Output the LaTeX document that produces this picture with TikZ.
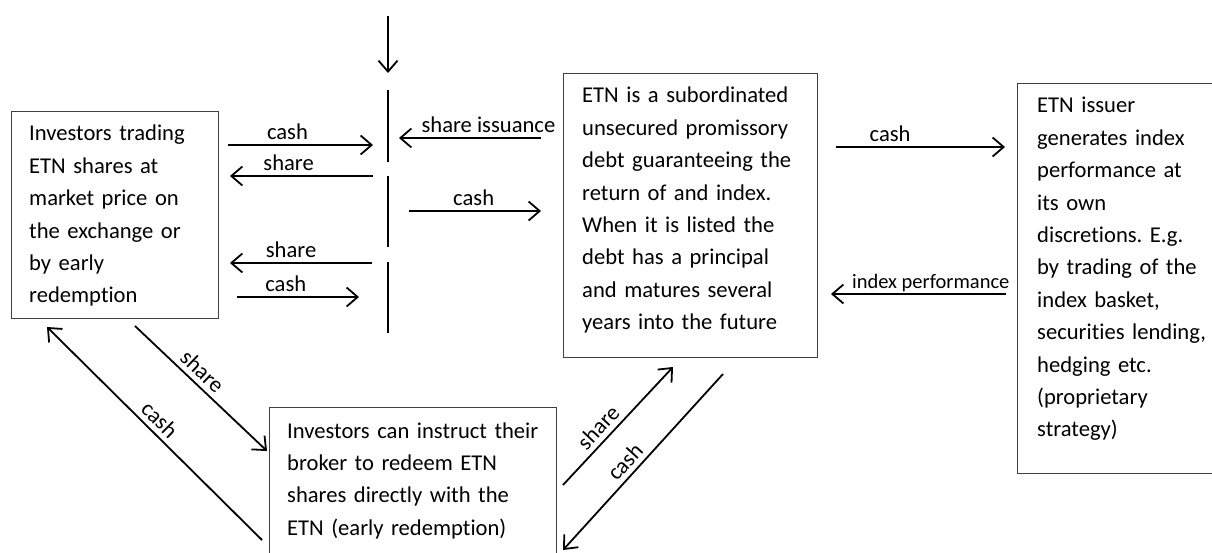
\documentclass[tikz,border=0pt]{standalone}
\usepackage{fontspec}
\setmainfont{Carlito}[Ligatures=NoCommon]
\usetikzlibrary{arrows.meta}
\frenchspacing
\tikzset{
  box/.style={draw=black!75,line width=1.3pt,anchor=north west,inner sep=0pt},
  txt/.style={anchor=base west,align=left,inner sep=0pt,
    font=\fontsize{22.6}{32.4}\selectfont},
  flow/.style={line width=1.8pt,-{Straight Barb[length=11pt,width=19pt]}},
  seg/.style={line width=1.8pt},
  lbl/.style={above=5pt,inner sep=0pt,text depth=0pt,
    font=\fontsize{22.6}{27}\selectfont},
}

\begin{document}
\begin{tikzpicture}[x=1pt,y=-1pt]
  \useasboundingbox (0,0) rectangle (1212,553);
  % boxes
  \node[box,minimum width=207pt,minimum height=207pt] (investors) at (11,111) {};
  \node[txt,text width=180pt] (investorstext) at ([shift={(18,30)}]investors.north west)
    {Investors trading\\ETN shares at\\market price on\\the exchange or\\by early\\redemption};
  \node[box,minimum width=254pt,minimum height=284pt] (etn) at (563,73) {};
  \node[txt,text width=240pt] (etntext) at ([shift={(19,30)}]etn.north west)
    {ETN is a subordinated\\unsecured promissory\\debt guaranteeing the\\return of and index.\\When it is listed the\\debt has a principal\\and matures several\\years into the future};
  \node[box,minimum width=210pt,minimum height=390pt] (issuer) at (1017,83) {};
  \node[txt,text width=190pt] (issuertext) at ([shift={(20,30)}]issuer.north west)
    {ETN issuer\\generates index\\performance at\\its own\\discretions. E.g.\\by trading of the\\index basket,\\securities lending,\\hedging etc.\\(proprietary\\strategy)};
  \node[box,minimum width=287pt,minimum height=155pt] (broker) at (269,407) {};
  \node[txt,text width=275pt] (brokertext) at ([shift={(18,31)}]broker.north west)
    {Investors can instruct their\\broker to redeem ETN\\shares directly with the\\ETN (early redemption)};
  % exchange and arrow ends
  \foreach \name/\x/\y in {top/388/16,topend/388/73,
      exa/388/90,exb/388/162,exc/388/176,exd/388/247,exe/388/262,exf/388/333,
      buyA/228/145,buyB/373/145,sellA/373/176,sellB/230/176,
      issA/541/138,issB/399/138,payA/409/211,payB/541/211,
      redA/372/263,redB/230/263,redcA/237/297,redcB/359/297,
      issuerA/836/147,issuerB/1005/147,perfA/1006/294,perfB/831/294,
      dshA/135/326,dshB/267/451,dcaA/262/540,dcaB/47/327,
      ushA/563/485,ushB/673/367,ucaA/723/374,ucaB/563/550}
    \coordinate (\name) at (\x,\y);
  \draw[flow] (top) -- (topend);
  \foreach \a/\b in {exa/exb,exc/exd,exe/exf}
    \draw[seg] (\a) -- (\b);
  % flows
  \draw[flow] (buyA) -- (buyB) node[lbl,pos=0.41] {cash};
  \draw[flow] (sellA) -- (sellB) node[lbl,pos=0.59] {share};
  \draw[flow] (issA) -- (issB) node[lbl,pos=0.37] {share issuance};
  \draw[flow] (payA) -- (payB) node[lbl,pos=0.49] {cash};
  \draw[flow] (redA) -- (redB) node[lbl,pos=0.57] {share};
  \draw[flow] (redcA) -- (redcB) node[lbl,pos=0.40] {cash};
  \draw[flow] (issuerA) -- (issuerB) node[lbl,pos=0.32] {cash};
  \draw[flow] (perfA) -- (perfB)
    node[lbl,pos=0.43,font=\fontsize{20.5}{24}\selectfont] {index performance};
  \draw[flow] (dshA) -- (dshB) node[lbl,sloped,pos=0.44] {share};
  \draw[flow] (dcaA) -- (dcaB) node[lbl,sloped,pos=0.52] {cash};
  \draw[flow] (ushA) -- (ushB) node[lbl,sloped,pos=0.41] {share};
  \draw[flow] (ucaA) -- (ucaB) node[lbl,sloped,pos=0.55] {cash};
\end{tikzpicture}
\end{document}
